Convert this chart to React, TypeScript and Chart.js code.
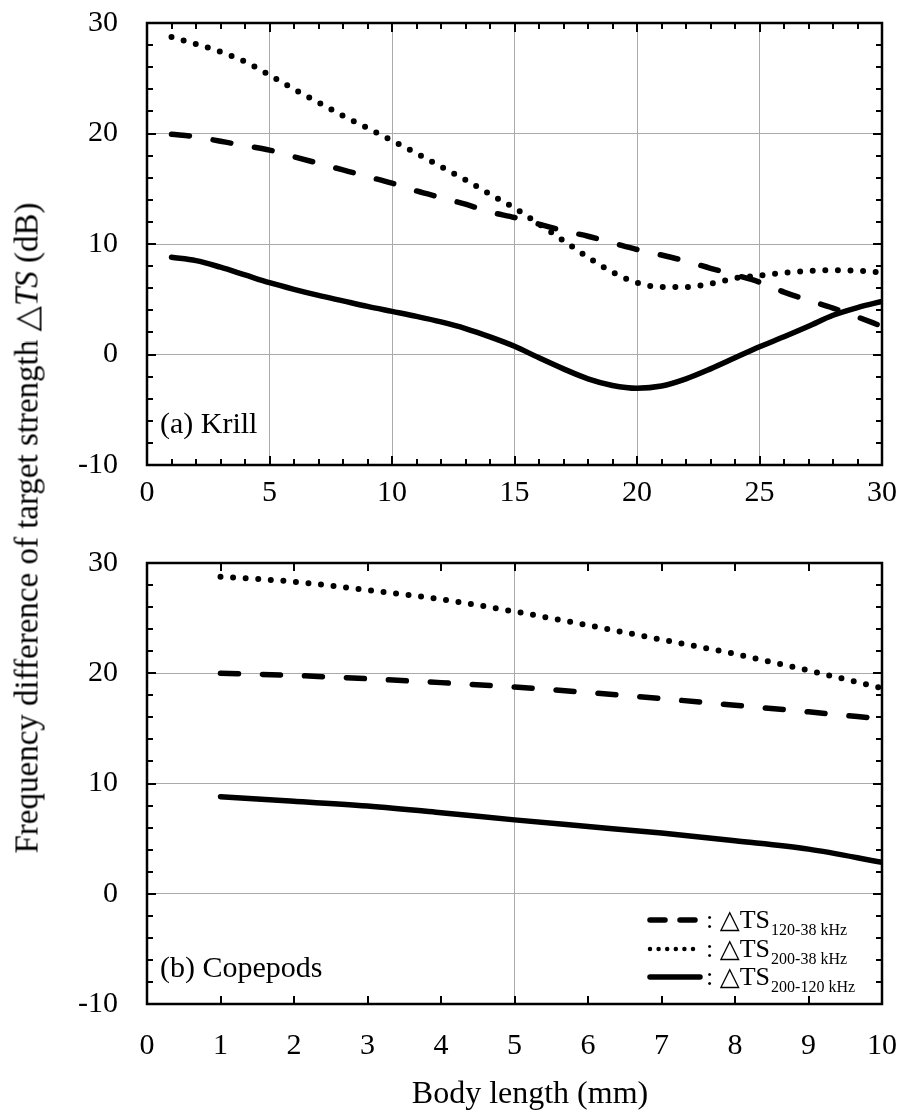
import React, { useEffect, useRef } from 'react';
import { Chart, registerables } from 'chart.js';

Chart.register(...registerables);

const SERIF = '"Liberation Serif", "Times New Roman", "DejaVu Serif", serif';
const GRID = '#aaaaaa';

// (a) Krill — body length (mm) and ΔTS (dB)
const krillLength = [1, 2, 3, 4, 5, 6, 7, 8, 9, 10, 11, 12, 13, 14, 15, 16, 17, 18, 19, 20, 21, 22, 23, 24, 25, 26, 27, 28, 29, 30];
const krillTs120_38 = [19.93, 19.7, 19.3, 18.9, 18.5, 17.9, 17.3, 16.7, 16.1, 15.5, 14.8, 14.2, 13.6, 12.9, 12.4, 11.8, 11.2, 10.7, 10.1, 9.5, 9.0, 8.45, 7.8, 7.2, 6.55, 5.65, 4.9, 4.2, 3.4, 2.55];
const krillTs200_38 = [28.73, 28.1, 27.4, 26.5, 25.3, 24.0, 22.8, 21.6, 20.5, 19.36, 18.2, 17.0, 15.8, 14.5, 13.25, 11.8, 10.3, 8.8, 7.45, 6.5, 6.1, 6.1, 6.4, 6.9, 7.15, 7.4, 7.55, 7.63, 7.58, 7.42];
const krillTs200_120 = [8.8, 8.5, 7.9, 7.2, 6.5, 5.9, 5.35, 4.85, 4.35, 3.9, 3.45, 2.95, 2.35, 1.6, 0.75, -0.3, -1.3, -2.2, -2.8, -3.05, -2.85, -2.2, -1.3, -0.3, 0.7, 1.6, 2.55, 3.55, 4.25, 4.8];

// (b) Copepods — body length (mm) and ΔTS (dB)
const copepodLength = [1, 2, 3, 4, 5, 6, 7, 8, 9, 10];
const copepodTs120_38 = [20.0, 19.8, 19.5, 19.15, 18.75, 18.25, 17.7, 17.1, 16.5, 15.85];
const copepodTs200_38 = [28.75, 28.3, 27.55, 26.7, 25.6, 24.35, 23.05, 21.75, 20.25, 18.65];
const copepodTs200_120 = [8.8, 8.4, 7.95, 7.35, 6.7, 6.1, 5.5, 4.8, 4.05, 2.85];

const yTicks = [-10, 0, 10, 20, 30];
const legendSubscripts = ['120-38 kHz', '200-38 kHz', '200-120 kHz'];

const DASHED = [18, 24];
const DOTTED = [0, 12.6];

function lineDataset(xs: number[], ys: number[], dash: number[], width: number) {
  return {
    data: xs.map((x, i) => ({ x, y: ys[i] })),
    borderColor: '#000',
    borderWidth: width,
    borderDash: dash,
    borderCapStyle: 'round' as const,
    borderJoinStyle: 'round' as const,
    pointRadius: 0,
    cubicInterpolationMode: 'monotone' as const,
    fill: false,
  };
}

type FrameOpts = {
  xMinor: number;
  xMajor: number;
  xMinorLen: number;
  xMajorLen: number;
  label: string;
  labelDy: number;
  legend?: { x: number; rows: number[] };
  xTitle?: { text: string; x: number; y: number };
};

// Frame with inward ticks on all four sides, panel caption, axis title and optional legend
const framePlugin = {
  id: 'frame',
  afterDraw(chart: any, _args: any, o: FrameOpts) {
    const { ctx, chartArea } = chart;
    const { left, right, top, bottom } = chartArea;
    const xs = chart.scales.x;
    const ys = chart.scales.y;
    ctx.save();
    ctx.strokeStyle = '#000';
    ctx.lineWidth = 2;
    ctx.lineCap = 'butt';
    ctx.setLineDash([]);
    const seg = (x1: number, y1: number, x2: number, y2: number) => {
      ctx.beginPath();
      ctx.moveTo(x1, y1);
      ctx.lineTo(x2, y2);
      ctx.stroke();
    };
    for (let v = xs.min; v <= xs.max + 1e-9; v += o.xMinor) {
      const px = Math.round(xs.getPixelForValue(v));
      const major = Math.abs(v / o.xMajor - Math.round(v / o.xMajor)) < 1e-6;
      const len = major ? o.xMajorLen : o.xMinorLen;
      seg(px, bottom, px, bottom - len);
      seg(px, top, px, top + len);
    }
    for (let v = ys.min; v <= ys.max + 1e-9; v += 2) {
      const py = Math.round(ys.getPixelForValue(v));
      const major = Math.abs(v / 10 - Math.round(v / 10)) < 1e-6;
      const len = major ? 9 : 6;
      seg(left, py, left + len, py);
      seg(right, py, right - len, py);
    }
    ctx.lineWidth = 2.5;
    ctx.strokeRect(left, top, right - left, bottom - top);

    ctx.fillStyle = '#000';
    ctx.font = `30px ${SERIF}`;
    ctx.textBaseline = 'alphabetic';
    ctx.textAlign = 'left';
    ctx.fillText(o.label, left + 13, bottom - o.labelDy);

    if (o.xTitle) {
      ctx.font = `32px ${SERIF}`;
      ctx.textAlign = 'center';
      ctx.textBaseline = 'middle';
      ctx.fillText(o.xTitle.text, o.xTitle.x, o.xTitle.y);
      ctx.textAlign = 'left';
      ctx.textBaseline = 'alphabetic';
    }

    if (o.legend) {
      const styles = [
        { dash: [15, 15], width: 5.5 },
        { dash: [0, 8.6], width: 4.5 },
        { dash: [], width: 5.5 },
      ];
      o.legend.rows.forEach((ry, i) => {
        const x0 = o.legend!.x;
        ctx.save();
        ctx.lineWidth = styles[i].width;
        ctx.lineCap = 'round';
        ctx.setLineDash(styles[i].dash);
        ctx.beginPath();
        ctx.moveTo(x0 + 2, ry);
        ctx.lineTo(x0 + 52, ry);
        ctx.stroke();
        ctx.restore();
        let tx = x0 + 58;
        ctx.font = `26px ${SERIF}`;
        ctx.fillText(':', tx, ry + 8);
        tx += ctx.measureText(': ').width;
        ctx.fillText('\u25B3TS', tx, ry + 8);
        tx += ctx.measureText('\u25B3TS').width + 1;
        ctx.font = `16px ${SERIF}`;
        ctx.fillText(legendSubscripts[i], tx, ry + 15);
      });
    }
    ctx.restore();
  },
};

function makeConfig(
  xs: number[],
  s1: number[],
  s2: number[],
  s3: number[],
  p: {
    xMax: number;
    xStep: number;
    padTop: number;
    axisH: number;
    tickPad: number;
    xGrid: (v: number) => boolean;
    frame: FrameOpts;
  }
): any {
  const tickFont = { family: SERIF, size: 30 };
  return {
    type: 'line',
    data: {
      datasets: [
        lineDataset(xs, s1, DASHED, 5.5),
        lineDataset(xs, s2, DOTTED, 6),
        lineDataset(xs, s3, [], 5.5),
      ],
    },
    plugins: [framePlugin],
    options: {
      responsive: false,
      maintainAspectRatio: false,
      animation: false,
      events: [],
      layout: { padding: { top: p.padTop, right: 22, left: 0, bottom: 0 } },
      plugins: {
        legend: { display: false },
        tooltip: { enabled: false },
        frame: p.frame,
      },
      scales: {
        x: {
          type: 'linear',
          min: 0,
          max: p.xMax,
          afterFit: (s: any) => {
            s.height = p.axisH;
            s.paddingLeft = 0;
            s.paddingRight = 0;
          },
          ticks: {
            stepSize: p.xStep,
            padding: p.tickPad,
            color: '#000',
            font: tickFont,
            maxRotation: 0,
            autoSkip: false,
          },
          grid: {
            drawTicks: false,
            lineWidth: 1,
            color: (c: any) => (c.tick && p.xGrid(c.tick.value) ? GRID : 'rgba(0,0,0,0)'),
          },
          border: { display: false },
        },
        y: {
          type: 'linear',
          min: -10,
          max: 30,
          afterFit: (s: any) => {
            s.width = 147;
            s.paddingTop = 0;
            s.paddingBottom = 0;
          },
          afterBuildTicks: (s: any) => {
            s.ticks = yTicks.map((v) => ({ value: v }));
          },
          ticks: { padding: 29, color: '#000', font: tickFont },
          grid: {
            drawTicks: false,
            lineWidth: 1,
            color: (c: any) =>
              c.tick && c.tick.value > -10 && c.tick.value < 30 ? GRID : 'rgba(0,0,0,0)',
          },
          border: { display: false },
        },
      },
    },
  };
}

export default function App() {
  const topRef = useRef<HTMLCanvasElement>(null);
  const bottomRef = useRef<HTMLCanvasElement>(null);

  useEffect(() => {
    const krill = new Chart(
      topRef.current!,
      makeConfig(krillLength, krillTs120_38, krillTs200_38, krillTs200_120, {
        xMax: 30,
        xStep: 5,
        padTop: 23,
        axisH: 65,
        tickPad: 10,
        xGrid: (v) => v > 0 && v < 30,
        frame: { xMinor: 1, xMajor: 5, xMinorLen: 6, xMajorLen: 9, label: '(a) Krill', labelDy: 32 },
      })
    );
    const copepods = new Chart(
      bottomRef.current!,
      makeConfig(copepodLength, copepodTs120_38, copepodTs200_38, copepodTs200_120, {
        xMax: 10,
        xStep: 1,
        padTop: 33,
        axisH: 116,
        tickPad: 24,
        xGrid: (v) => v === 5,
        frame: {
          xMinor: 1,
          xMajor: 1,
          xMinorLen: 8,
          xMajorLen: 8,
          label: '(b) Copepods',
          labelDy: 27,
          legend: { x: 648, rows: [390, 419, 447] },
          xTitle: { text: 'Body length (mm)', x: 530, y: 565 },
        },
      })
    );
    return () => {
      krill.destroy();
      copepods.destroy();
    };
  }, []);

  return (
    <div style={{ position: 'absolute', left: 0, top: 0, width: 904, height: 1120, background: '#fff' }}>
      <canvas ref={topRef} width={904} height={530} style={{ position: 'absolute', left: 0, top: 0, display: 'block' }} />
      <canvas ref={bottomRef} width={904} height={590} style={{ position: 'absolute', left: 0, top: 530, display: 'block' }} />
      <div
        style={{
          position: 'absolute',
          left: 27,
          top: 528,
          transform: 'translate(-50%, -50%) rotate(-90deg)',
          whiteSpace: 'nowrap',
          fontFamily: SERIF,
          fontSize: 33,
          lineHeight: 1,
          color: '#000',
        }}
      >
        Frequency difference of target strength {'\u25B3'}
        <i>TS</i> (dB)
      </div>
    </div>
  );
}
